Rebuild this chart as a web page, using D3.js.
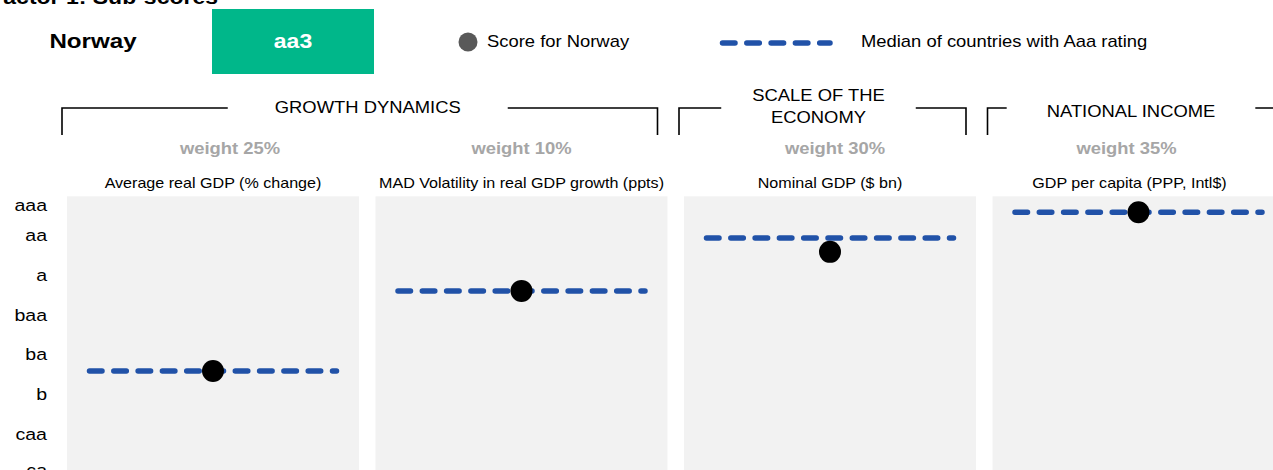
<!DOCTYPE html>
<html><head><meta charset="utf-8">
<script src="https://cdn.jsdelivr.net/npm/d3@7"></script>
<style>
body{margin:0;background:#fff;overflow:hidden}
svg{display:block}
text{font-family:"Liberation Sans",Arial,Helvetica,sans-serif;fill:#000}
</style>
</head><body>
<svg id="chart" width="1273" height="470"></svg>
<script>
// ---------------- data ----------------
const chartTitle = "Factor 1: Sub-scores";
const countryName = "Norway";
const countryRating = "aa3";
const legendScoreLabel = "Score for Norway";
const legendMedianLabel = "Median of countries with Aaa rating";

const ratingLabels = ["aaa", "aa", "a", "baa", "ba", "b", "caa", "ca"];
const ratingTickValues = [1, 3, 6, 9, 12, 15, 18, 21];

const metrics = ["Average real GDP (% change)", "MAD Volatility in real GDP growth (ppts)", "Nominal GDP ($ bn)", "GDP per capita (PPP, Intl$)"];
const weights = ["weight 25%", "weight 10%", "weight 30%", "weight 35%"];
const medianScores = [13.2, 7.15, 3.15, 1.2];
const countryScores = [13.2, 7.15, 4.2, 1.2];

const groupNames = [["GROWTH DYNAMICS"], ["SCALE OF THE", "ECONOMY"], ["NATIONAL INCOME"]];
const groupFirstMetric = [0, 2, 3];
const groupLastMetric = [1, 2, 3];

// ---------------- layout / style ----------------
const W = 1273, H = 470;
const SX = 1.15;               // horizontal stretch of the text
const BLUE = "#2152a8";
const GREEN = "#00b78a";
const PANEL = "#f2f2f2";
const GREY = "#a6a6a6";
const weightDx = [17, 0, 5, -12];
const titleDx = [0, 0, 0, -9];
const headerDx = [8, -4, 0];
const headerDy = [-2, 0, 2];
const headerPad = [47, 31, 40];

const svg = d3.select("#chart");

function label(g, str, x, y, opts = {}) {
  return g.append("text")
    .attr("transform", `translate(${x},${y}) scale(${SX},1)`)
    .attr("text-anchor", opts.anchor || "middle")
    .style("font-size", (opts.size || 16) + "px")
    .style("font-weight", opts.bold ? "bold" : "normal")
    .style("fill", opts.fill || "#000")
    .text(str);
}

const x = d3.scaleBand().domain(metrics).range([67, 1284.5]).paddingInner(0.0535).paddingOuter(0);
const bw = x.bandwidth();
const y = d3.scaleLinear().domain([0, 21]).range([196.3, 474.1]);

// title (cut off at the top)
label(svg, chartTitle, 218, 4, {anchor: "end", size: 20, bold: true});

// header: country + rating box
label(svg, countryName, 93, 48, {size: 21, bold: true});
svg.append("rect").attr("x", 212).attr("y", 9).attr("width", 162).attr("height", 65).attr("fill", GREEN);
label(svg, countryRating, 293, 48, {size: 20, bold: true, fill: "#fff"});

// legend
svg.append("circle").attr("cx", 468).attr("cy", 42).attr("r", 9.5).attr("fill", "#595959");
label(svg, legendScoreLabel, 487, 47, {anchor: "start", size: 16});
svg.append("line").attr("x1", 722.5).attr("x2", 830).attr("y1", 43).attr("y2", 43)
  .attr("stroke", BLUE).attr("stroke-width", 5.5).attr("stroke-linecap", "round")
  .attr("stroke-dasharray", "12.5,11.8");
label(svg, legendMedianLabel, 861, 47, {anchor: "start", size: 16});

// group headers with brackets
const hdr = svg.append("g");
groupNames.forEach((lines, i) => {
  const x0 = x(metrics[groupFirstMetric[i]]) - 5;
  const x1 = x(metrics[groupLastMetric[i]]) + bw - 10;
  const cx = (x0 + x1) / 2 + headerDx[i];
  const yTop = 108, yBot = 135;
  const g = hdr.append("g");
  const texts = [];
  if (lines.length === 1) {
    texts.push(label(g, lines[0], cx, 115 + headerDy[i], {size: 16}));
  } else {
    lines.forEach((l, k) => texts.push(label(g, l, cx, 101 + k * 22, {size: 16})));
  }
  const tw = d3.max(texts, t => t.node().getBBox().width) * SX;
  const half = tw / 2 + headerPad[i];
  const path = `M${x0},${yBot}V${yTop}H${cx - half}M${cx + half},${yTop}H${x1}V${yBot}`;
  g.append("path").attr("d", path).attr("fill", "none").attr("stroke", "#000").attr("stroke-width", 1.6);
});

// weights + panel titles
metrics.forEach((m, i) => {
  label(svg, weights[i], x(m) + bw / 2 + weightDx[i], 154, {size: 16, bold: true, fill: GREY});
  label(svg, m, x(m) + bw / 2 + titleDx[i], 188, {size: 14});
});

// panels
svg.append("g").selectAll("rect").data(metrics).join("rect")
  .attr("x", d => x(d)).attr("y", y(0)).attr("width", bw).attr("height", H + 20 - y(0))
  .attr("fill", PANEL);

// y axis (the two end labels are pulled inside the plotting band)
const yAxis = d3.axisLeft(y).tickValues(ratingTickValues)
  .tickFormat((d, i) => ratingLabels[i]).tickSize(0).tickPadding(0);
const ax = svg.append("g").attr("transform", "translate(47,0)").call(yAxis);
ax.select(".domain").remove();
const nT = ratingTickValues.length;
ax.selectAll(".tick").attr("transform", (d, i) => {
  let ty = y(d);
  if (i === 0) ty = y(0) + 9;
  if (i === nT - 1) ty = H + 1;
  return `translate(0,${ty})`;
});
ax.selectAll("text")
  .attr("x", 0)
  .attr("transform", `scale(${SX},1)`)
  .style("font-size", "17px")
  .style("font-family", '"Liberation Sans",Arial,sans-serif')
  .attr("fill", "#000");

// median lines
svg.append("g").selectAll("line").data(metrics).join("line")
  .attr("x1", d => x(d) + 22.5).attr("x2", d => x(d) + bw - 22.5)
  .attr("y1", (d, i) => y(medianScores[i])).attr("y2", (d, i) => y(medianScores[i]))
  .attr("stroke", BLUE).attr("stroke-width", 5.5).attr("stroke-linecap", "round")
  .attr("stroke-dasharray", "12.5,11.8");

// country scores
svg.append("g").selectAll("circle").data(metrics).join("circle")
  .attr("cx", d => x(d) + bw / 2)
  .attr("cy", (d, i) => y(countryScores[i]))
  .attr("r", 11).attr("fill", "#000");
</script>
</body></html>
